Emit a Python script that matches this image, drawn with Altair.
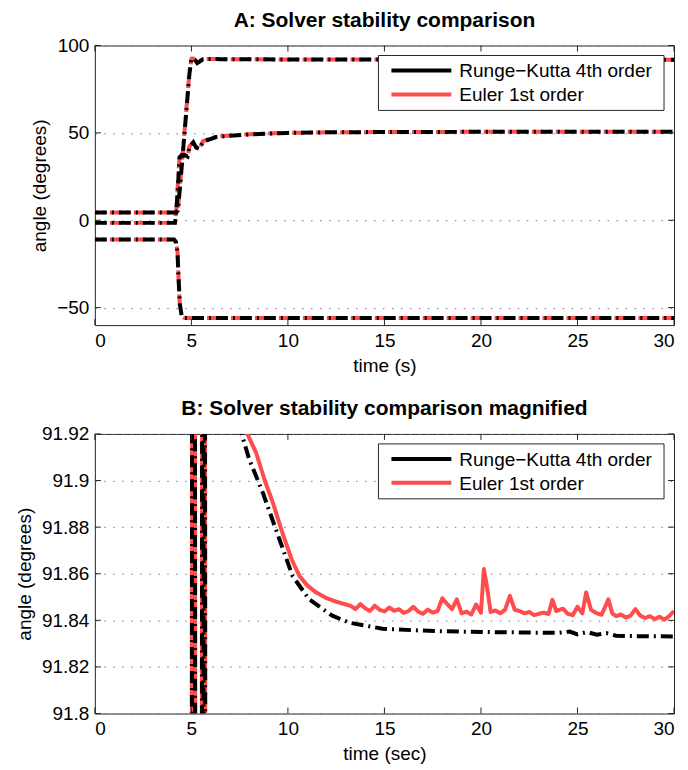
import altair as alt
import pandas as pd

W, H = 580, 280
RED = "#ff4d4d"
BLACK = "#000000"
FONT = "Liberation Sans"

series_names = ["Runge\u2212Kutta 4th order", "Euler 1st order"]

# ---------------- Panel A data (time s, angle deg) ----------------
a1_t = [0, 4.2, 4.3, 4.45, 4.6, 4.75, 4.9, 5.0, 5.1, 5.2, 5.3, 5.45, 5.6, 5.8, 6.5, 10, 20, 30]
a1_rk = [4.5, 4.5, 5.5, 24, 44, 64, 84, 92.4, 92.6, 91.5, 90.0, 91.0, 92.2, 92.3, 92.2, 92.0, 91.9, 91.84]
a1_eu = [4.5, 4.5, 5.5, 25, 45, 65, 85, 92.6, 92.6, 91.6, 90.2, 91.1, 92.2, 92.3, 92.2, 92.0, 91.9, 91.84]

a2_t = [0, 4.15, 4.22, 4.3, 4.39, 4.5, 4.65, 4.8, 4.9, 5.1, 5.25, 5.42, 5.6, 6.28, 7, 8, 9, 10, 12, 15, 20, 30]
a2_rk = [-1.5, -1.5, 5, 19, 36, 37.3, 37.3, 36.5, 41.9, 44.6, 41.5, 40.8, 45, 47.6, 48.3, 49.1, 49.6, 50.0, 50.3, 50.5, 50.6, 50.6]
a2_eu = [-1.5, -1.5, 6, 21, 37, 37.8, 37.6, 37.0, 42.3, 44.8, 42.0, 41.2, 45.3, 47.8, 48.5, 49.2, 49.7, 50.0, 50.3, 50.5, 50.6, 50.6]

a3_t = [0, 4.1, 4.2, 4.28, 4.33, 4.4, 4.5, 4.65, 5, 30]
a3_rk = [-11, -11, -12.5, -18, -32, -48, -55, -56, -56, -56]
a3_eu = [-11, -11, -12.5, -18, -32, -48, -55, -56, -56, -56]

# ---------------- Panel B data (magnified) ----------------
b_rk_t = [5.02, 5.04, 5.18, 5.20, 5.54, 5.56, 5.70, 5.72, 5.62, 5.64, 6.5, 7.6, 8.0, 8.69, 9.55, 10.24, 11.1, 12.3,
          13.17, 14.89, 16.6, 18.0, 20.0, 22.0, 24.0, 24.6, 25.0, 25.5, 26.0, 26.5, 27.0, 28.0, 30.0]
b_rk_v = [91.70, 92.05, 92.05, 91.70, 91.70, 92.05, 92.05, 91.70, 91.70, 92.05, 92.00, 91.92, 91.909, 91.895, 91.875,
          91.859, 91.849, 91.842, 91.839, 91.8364, 91.8357, 91.8353, 91.8350, 91.8348, 91.8346, 91.8352, 91.8340,
          91.8350, 91.8338, 91.8345, 91.8334, 91.8332, 91.8331]

b_eu_t = [5.02, 5.04, 5.18, 5.20, 5.54, 5.56, 5.70, 5.72, 5.62, 5.64, 6.8, 7.9, 8.35, 8.8, 9.2, 9.7, 10.2, 10.6, 11.0,
          11.45, 12.0, 12.5, 13.0, 13.25, 13.5, 13.75, 14.0, 14.25, 14.5, 14.75, 15.0, 15.25, 15.5, 15.75, 16.0,
          16.25, 16.5, 16.75, 17.0, 17.25, 17.5, 17.75, 18.0, 18.25, 18.5, 18.75, 19.0, 19.25, 19.5, 19.75, 20.0,
          20.15, 20.3, 20.5, 20.75, 21.0, 21.25, 21.5, 21.75, 22.0, 22.25, 22.5, 22.75, 23.0, 23.25, 23.5, 23.7,
          23.9, 24.25, 24.5, 24.75, 25.0, 25.25, 25.45, 25.7, 26.0, 26.25, 26.6, 26.8, 27.0, 27.25, 27.5, 27.75,
          28.0, 28.25, 28.5, 28.75, 29.0, 29.25, 29.5, 29.75, 30.0]
b_eu_v = [91.70, 92.05, 92.05, 91.70, 91.70, 92.05, 92.05, 91.70, 91.70, 92.05, 92.00, 91.920, 91.912, 91.900,
          91.891, 91.878, 91.866, 91.859, 91.855, 91.852, 91.8495, 91.848, 91.8468, 91.8462, 91.8448, 91.8470,
          91.8452, 91.8440, 91.8463, 91.8445, 91.8438, 91.8455, 91.8441, 91.8448, 91.8432, 91.8440, 91.8458,
          91.8437, 91.8428, 91.8446, 91.8433, 91.8440, 91.8495, 91.8470, 91.8448, 91.8490, 91.8430, 91.8437,
          91.8425, 91.8468, 91.8432, 91.8620, 91.8550, 91.8436, 91.8442, 91.8430, 91.8446, 91.8505, 91.8445,
          91.8440, 91.8430, 91.8436, 91.8422, 91.8428, 91.8433, 91.8427, 91.8488, 91.8440, 91.8450, 91.8428,
          91.8422, 91.8458, 91.8430, 91.8520, 91.8445, 91.8430, 91.8424, 91.8490, 91.8430, 91.8418, 91.8425,
          91.8412, 91.8420, 91.8448, 91.8420, 91.8410, 91.8418, 91.8405, 91.8415, 91.8403, 91.8418, 91.8440]

x_ticks = [0, 5, 10, 15, 20, 25, 30]
a_y_ticks = [-50, 0, 50, 100]
b_y_ticks = [91.8, 91.82, 91.84, 91.86, 91.88, 91.9, 91.92]


def frame(curves):
    rows = []
    for cid, (ts, vs) in enumerate(curves):
        for i, (t, v) in enumerate(zip(ts, vs)):
            rows.append({"t": t, "v": v, "curve": cid, "i": i})
    return pd.DataFrame(rows)


a_rk = frame([(a1_t, a1_rk), (a2_t, a2_rk), (a3_t, a3_rk)])
a_eu = frame([(a1_t, a1_eu), (a2_t, a2_eu), (a3_t, a3_eu)])
b_rk = frame([(b_rk_t, b_rk_v)])
b_eu = frame([(b_eu_t, b_eu_v)])


def panel(rk_df, eu_df, ydom, yticks, title, xtitle, yfmt, eu_dash):
    xs = alt.Scale(domain=[0, 30], nice=False, zero=False)
    ys = alt.Scale(domain=ydom, nice=False, zero=False)
    xenc = alt.X("t:Q", scale=xs, axis=alt.Axis(values=x_ticks, title=xtitle, grid=False, format="d"))
    yenc = alt.Y("v:Q", scale=ys, axis=alt.Axis(values=yticks, title="angle (degrees)", grid=True, format=yfmt))

    eu_mark = dict(color=RED, strokeWidth=4, clip=True, strokeJoin="round")
    if eu_dash:
        eu_mark.update(strokeDash=[12, 5, 2, 5], strokeDashOffset=9)
    eu = alt.Chart(eu_df).mark_line(**eu_mark).encode(x=xenc, y=yenc, detail="curve:N", order="i:Q")
    rk = alt.Chart(rk_df).mark_line(color=BLACK, strokeWidth=4, clip=True, strokeDash=[12, 5, 2, 5]).encode(
        x=alt.X("t:Q"), y=alt.Y("v:Q"), detail="curve:N", order="i:Q")

    xt = pd.DataFrame({"t": x_ticks})
    yt = pd.DataFrame({"v": yticks})
    tick_col = "#262626"
    tb = alt.Chart(xt).mark_rule(color=tick_col).encode(x="t:Q", y=alt.value(H), y2=alt.value(H - 6))
    tt = alt.Chart(xt).mark_rule(color=tick_col).encode(x="t:Q", y=alt.value(0), y2=alt.value(6))
    tl = alt.Chart(yt).mark_rule(color=tick_col).encode(y="v:Q", x=alt.value(0), x2=alt.value(6))
    tr = alt.Chart(yt).mark_rule(color=tick_col).encode(y="v:Q", x=alt.value(W), x2=alt.value(W - 6))

    one = pd.DataFrame({"k": [0]})
    box = alt.Chart(one).mark_rect(fill="white", stroke="#262626", strokeWidth=1).encode(
        x=alt.value(284), x2=alt.value(570), y=alt.value(10), y2=alt.value(65))
    leg = []
    for name, col, yy in [(series_names[0], BLACK, 25), (series_names[1], RED, 49)]:
        d = pd.DataFrame({"name": [name]})
        leg.append(alt.Chart(d).mark_rule(color=col, strokeWidth=4).encode(
            x=alt.value(297), x2=alt.value(357), y=alt.value(yy)))
        leg.append(alt.Chart(d).mark_text(align="left", baseline="middle", fontSize=19, font=FONT, color="black").encode(
            x=alt.value(365), y=alt.value(yy + 1), text="name:N"))

    return alt.layer(eu, rk, tb, tt, tl, tr, box, *leg).properties(
        width=W, height=H,
        title=alt.TitleParams(title, fontSize=21, fontWeight="bold", font=FONT, anchor="middle", color="black", offset=6),
    )


top = panel(a_rk, a_eu, [-60, 100], a_y_ticks, "A: Solver stability comparison", "time (s)", "d", True)
bottom = panel(b_rk, b_eu, [91.8, 91.92], b_y_ticks, "B: Solver stability comparison magnified", "time (sec)", ".4~g", False)

chart = alt.vconcat(top, bottom, spacing=21).configure(
    padding={"left": 6, "top": 0, "right": 5, "bottom": 5}
).configure_view(stroke="#262626", strokeWidth=1).configure_axis(
    labelFont=FONT, titleFont=FONT, labelFontSize=19, titleFontSize=19, titleFontWeight="normal",
    labelColor="black", titleColor="black", domain=False, ticks=False, labelPadding=6,
    gridColor="#777777", gridDash=[1.5, 7.5], gridWidth=1,
).configure_axisX(titlePadding=6).configure_axisY(titlePadding=7)

chart.save("out.html", embed_options={"renderer": "svg", "actions": False})
